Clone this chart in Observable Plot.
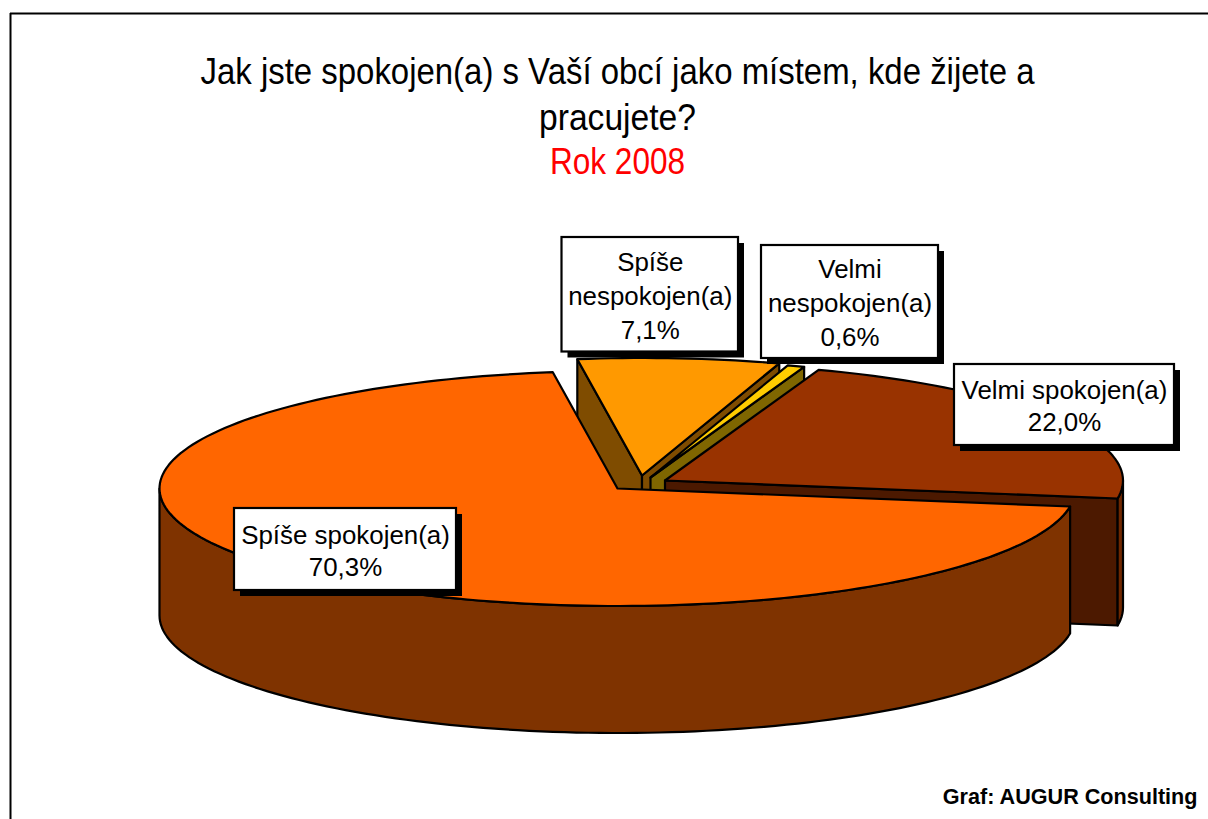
<!DOCTYPE html>
<html>
<head>
<meta charset="utf-8">
<script src="https://cdn.jsdelivr.net/npm/d3@7"></script>
<script src="https://cdn.jsdelivr.net/npm/@observablehq/plot@0.6"></script>
<style>
html,body{margin:0;padding:0;background:#fff;overflow:hidden}
svg{display:block}
</style>
</head>
<body>
<div id="chart"></div>
<script>
// Data
const categories = ["Velmi spokojen(a)", "Spíše spokojen(a)", "Spíše nespokojen(a)", "Velmi nespokojen(a)"];
const values = [22.0, 70.3, 7.1, 0.6];
const labelTexts = ["Velmi spokojen(a)\n22,0%", "Spíše spokojen(a)\n70,3%", "Spíše\nnespokojen(a)\n7,1%", "Velmi\nnespokojen(a)\n0,6%"];
const titleLines = ["Jak jste spokojen(a) s Vaší obcí jako místem, kde žijete a", "pracujete?"];
const subtitle = "Rok 2008";
const source = "Graf: AUGUR Consulting";

// Styling and layout (pixels of the picture)
const topColors = ["#993300", "#FF6600", "#FF9900", "#FFCC00"];
const wallColors = ["#4C1900", "#7F3300", "#7F4C00", "#7F6600"];
const curveColors = ["#702800", "#7F3300", "#7F4C00", "#7F6600"];
const apexes = [[664.5, 480], [617, 488], [641.5, 475], [650, 477]];
const boxes = [[954, 1174, 364, 445], [234, 456, 508, 590], [561.5, 738, 237, 351.5], [761, 938, 245, 358]];
const paintOrder = [2, 3, 0, 1];
const firstAngle = 19.6, rx = 458, ry = 117.5, depth = 127, shadow = 6;
const titleWidths = [834, 157, 135];

// Angles come from the values
const total = d3.sum(values);
let acc = firstAngle;
const spans = values.map(v => { const a = acc; acc += v / total * 360; return [a, acc]; });

const rad = d => d * Math.PI / 180;
const pt = (c, deg, dz = 0) => ({x: c[0] + rx * Math.sin(rad(deg)), y: c[1] - ry * Math.cos(rad(deg)) + dz});
const arc = (c, a0, a1, dz = 0) => {
  const n = Math.max(2, Math.ceil(Math.abs(a1 - a0) / 1.5));
  return d3.range(n + 1).map(i => pt(c, a0 + (a1 - a0) * i / n, dz));
};
const poly = (points, fill) => Plot.line(points, {
  x: "x", y: "y", fill, stroke: "#000", strokeWidth: 2.2, curve: "linear-closed", strokeLinejoin: "round"
});
const apexPt = (c, dz = 0) => ({x: c[0], y: c[1] + dz});
const radialWall = (c, a, fill) => poly([apexPt(c), pt(c, a), pt(c, a, depth), apexPt(c, depth)], fill);

function sliceMarks(i) {
  const c = apexes[i], [a0, a1] = spans[i], marks = [];
  // a radial wall shows when its outward side turns towards the viewer
  if (Math.sin(rad(a0)) < 0 && Math.cos(rad(a0)) > 0) marks.push(radialWall(c, a0, wallColors[i]));
  if (Math.sin(rad(a1)) > 0) marks.push(radialWall(c, a1, wallColors[i]));
  // curved outer wall: only the front half of the rim is visible
  const from = Math.max(a0, 90), to = Math.min(a1, 270);
  if (to > from) marks.push(poly([...arc(c, from, to), ...arc(c, to, from, depth)], curveColors[i]));
  // top face
  marks.push(poly([apexPt(c), ...arc(c, a0, a1)], topColors[i]));
  return marks;
}

const labelRows = categories.map((name, i) => ({
  name, text: labelTexts[i], x1: boxes[i][0], x2: boxes[i][1], y1: boxes[i][2], y2: boxes[i][3]
}));
const lineCount = d => d.text.split("\n").length;
const labelText = (rows, lineHeight, dy) => Plot.text(rows, {
  x: d => (d.x1 + d.x2) / 2, y: d => (d.y1 + d.y2) / 2, text: "text", dy,
  fontSize: 25.9, lineHeight, textAnchor: "middle", fill: "#000"
});

const plot = Plot.plot({
  width: 1208, height: 819,
  margin: 0,
  x: {domain: [0, 1208], range: [0, 1208], axis: null},
  y: {domain: [0, 819], range: [0, 819], axis: null},
  style: {background: "#fff", fontFamily: "'Liberation Sans', Arial, sans-serif"},
  marks: [
    Plot.ruleY([13], {x1: 10, x2: 1208, stroke: "#000", strokeWidth: 2}),
    Plot.ruleX([10], {y1: 13, y2: 819, stroke: "#000", strokeWidth: 2}),
    Plot.text(titleLines, {
      x: 617, y: (d, i) => 72 + i * 46, text: d => d, textAnchor: "middle",
      fontSize: 36, fill: "#000", className: "title-line"
    }),
    Plot.text([subtitle], {
      x: 617, y: 162, text: d => d, textAnchor: "middle",
      fontSize: 36, fill: "#FF0000", className: "title-line"
    }),
    ...paintOrder.flatMap(sliceMarks),
    Plot.rect(labelRows, {x1: d => d.x1 + shadow, x2: d => d.x2 + shadow, y1: d => d.y1 + shadow, y2: d => d.y2 + shadow, fill: "#000"}),
    Plot.rect(labelRows, {x1: "x1", x2: "x2", y1: "y1", y2: "y2", fill: "#fff", stroke: "#000", strokeWidth: 2.2}),
    labelText(labelRows.filter(d => lineCount(d) === 2), 1.235, 0),
    labelText(labelRows.filter(d => lineCount(d) === 3), 1.31, -0.5),
    Plot.text([source], {
      x: 1197, y: 797, text: d => d, textAnchor: "end", fontWeight: "bold", fontSize: 21.6, fill: "#000"
    })
  ]
});
document.getElementById("chart").append(plot);
// The title is set in a condensed cut: squeeze each line to its width
plot.querySelectorAll(".title-line text").forEach((t, i) => {
  t.setAttribute("textLength", titleWidths[i]);
  t.setAttribute("lengthAdjust", "spacingAndGlyphs");
});
</script>
</body>
</html>
